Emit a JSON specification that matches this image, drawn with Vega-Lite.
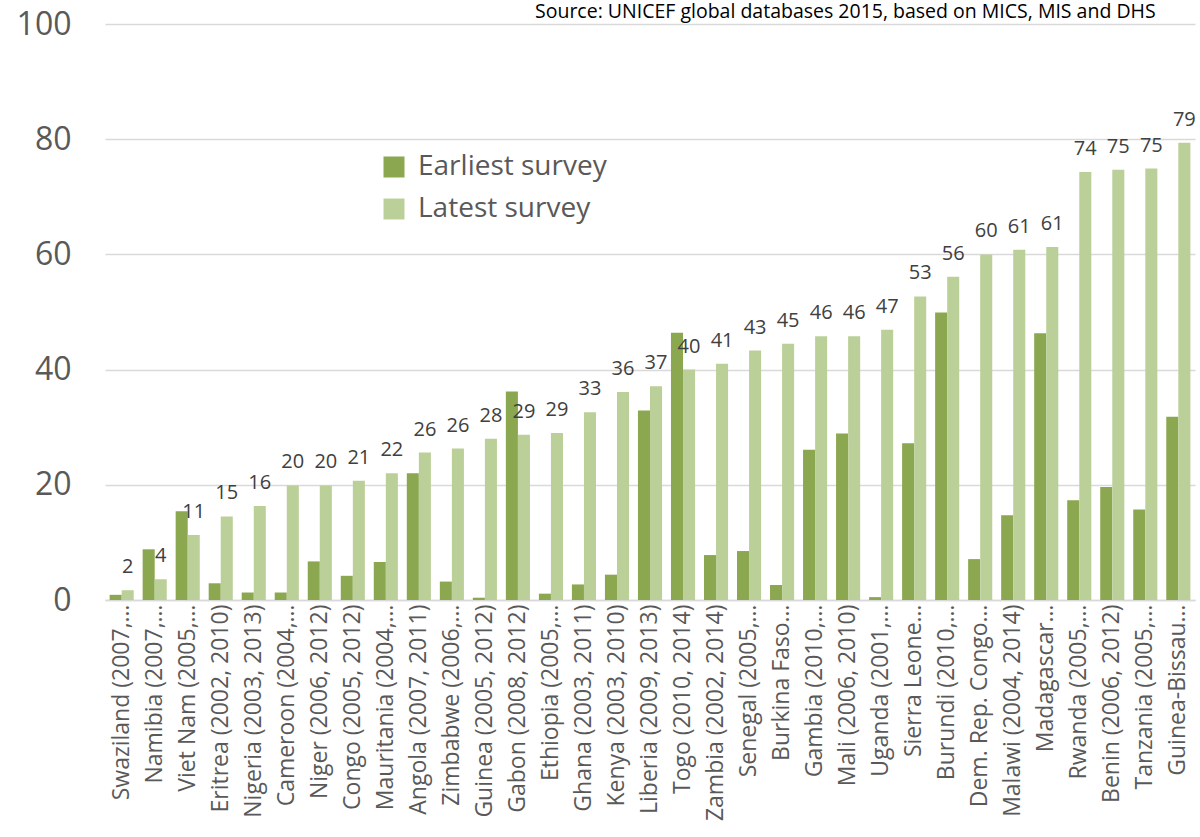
{
  "$schema": "https://vega.github.io/schema/vega-lite/v6.json",
  "width": 1090,
  "height": 576,
  "autosize": {"type": "none"},
  "padding": {"left": 105, "top": 24, "right": 5, "bottom": 237},
  "background": "white",
  "title": {
    "text": "Source: UNICEF global databases 2015, based on MICS, MIS and DHS",
    "anchor": "start",
    "frame": "group",
    "dx": 430,
    "offset": 0,
    "dy": 29,
    "baseline": "alphabetic",
    "font": "Open Sans",
    "fontSize": 19.5,
    "fontWeight": "normal",
    "color": "#000000"
  },
  "config": {
    "font": "Open Sans",
    "view": {"stroke": null}
  },
  "data": {
    "values": [
      {"country": "Swaziland (2007,…", "survey": "Earliest survey", "value": 0.9},
      {"country": "Swaziland (2007,…", "survey": "Latest survey", "value": 1.7},
      {"country": "Namibia (2007,…", "survey": "Earliest survey", "value": 8.8},
      {"country": "Namibia (2007,…", "survey": "Latest survey", "value": 3.6},
      {"country": "Viet Nam (2005,…", "survey": "Earliest survey", "value": 15.4},
      {"country": "Viet Nam (2005,…", "survey": "Latest survey", "value": 11.3},
      {"country": "Eritrea (2002, 2010)", "survey": "Earliest survey", "value": 2.9},
      {"country": "Eritrea (2002, 2010)", "survey": "Latest survey", "value": 14.5},
      {"country": "Nigeria (2003, 2013)", "survey": "Earliest survey", "value": 1.3},
      {"country": "Nigeria (2003, 2013)", "survey": "Latest survey", "value": 16.3},
      {"country": "Cameroon (2004,…", "survey": "Earliest survey", "value": 1.3},
      {"country": "Cameroon (2004,…", "survey": "Latest survey", "value": 19.9},
      {"country": "Niger (2006, 2012)", "survey": "Earliest survey", "value": 6.7},
      {"country": "Niger (2006, 2012)", "survey": "Latest survey", "value": 19.9},
      {"country": "Congo (2005, 2012)", "survey": "Earliest survey", "value": 4.2},
      {"country": "Congo (2005, 2012)", "survey": "Latest survey", "value": 20.7},
      {"country": "Mauritania (2004,…", "survey": "Earliest survey", "value": 6.6},
      {"country": "Mauritania (2004,…", "survey": "Latest survey", "value": 22.0},
      {"country": "Angola (2007, 2011)", "survey": "Earliest survey", "value": 22.0},
      {"country": "Angola (2007, 2011)", "survey": "Latest survey", "value": 25.6},
      {"country": "Zimbabwe (2006,…", "survey": "Earliest survey", "value": 3.2},
      {"country": "Zimbabwe (2006,…", "survey": "Latest survey", "value": 26.3},
      {"country": "Guinea (2005, 2012)", "survey": "Earliest survey", "value": 0.4},
      {"country": "Guinea (2005, 2012)", "survey": "Latest survey", "value": 28.0},
      {"country": "Gabon (2008, 2012)", "survey": "Earliest survey", "value": 36.2},
      {"country": "Gabon (2008, 2012)", "survey": "Latest survey", "value": 28.7},
      {"country": "Ethiopia (2005,…", "survey": "Earliest survey", "value": 1.1},
      {"country": "Ethiopia (2005,…", "survey": "Latest survey", "value": 29.0},
      {"country": "Ghana (2003, 2011)", "survey": "Earliest survey", "value": 2.7},
      {"country": "Ghana (2003, 2011)", "survey": "Latest survey", "value": 32.6},
      {"country": "Kenya (2003, 2010)", "survey": "Earliest survey", "value": 4.4},
      {"country": "Kenya (2003, 2010)", "survey": "Latest survey", "value": 36.1},
      {"country": "Liberia (2009, 2013)", "survey": "Earliest survey", "value": 32.9},
      {"country": "Liberia (2009, 2013)", "survey": "Latest survey", "value": 37.1},
      {"country": "Togo (2010, 2014)", "survey": "Earliest survey", "value": 46.4},
      {"country": "Togo (2010, 2014)", "survey": "Latest survey", "value": 40.0},
      {"country": "Zambia (2002, 2014)", "survey": "Earliest survey", "value": 7.8},
      {"country": "Zambia (2002, 2014)", "survey": "Latest survey", "value": 41.0},
      {"country": "Senegal (2005,…", "survey": "Earliest survey", "value": 8.5},
      {"country": "Senegal (2005,…", "survey": "Latest survey", "value": 43.3},
      {"country": "Burkina Faso…", "survey": "Earliest survey", "value": 2.6},
      {"country": "Burkina Faso…", "survey": "Latest survey", "value": 44.5},
      {"country": "Gambia (2010,…", "survey": "Earliest survey", "value": 26.1},
      {"country": "Gambia (2010,…", "survey": "Latest survey", "value": 45.8},
      {"country": "Mali (2006, 2010)", "survey": "Earliest survey", "value": 28.9},
      {"country": "Mali (2006, 2010)", "survey": "Latest survey", "value": 45.8},
      {"country": "Uganda (2001,…", "survey": "Earliest survey", "value": 0.5},
      {"country": "Uganda (2001,…", "survey": "Latest survey", "value": 46.9},
      {"country": "Sierra Leone…", "survey": "Earliest survey", "value": 27.2},
      {"country": "Sierra Leone…", "survey": "Latest survey", "value": 52.7},
      {"country": "Burundi (2010,…", "survey": "Earliest survey", "value": 49.9},
      {"country": "Burundi (2010,…", "survey": "Latest survey", "value": 56.1},
      {"country": "Dem. Rep. Congo…", "survey": "Earliest survey", "value": 7.1},
      {"country": "Dem. Rep. Congo…", "survey": "Latest survey", "value": 60.0},
      {"country": "Malawi (2004, 2014)", "survey": "Earliest survey", "value": 14.7},
      {"country": "Malawi (2004, 2014)", "survey": "Latest survey", "value": 60.8},
      {"country": "Madagascar…", "survey": "Earliest survey", "value": 46.3},
      {"country": "Madagascar…", "survey": "Latest survey", "value": 61.3},
      {"country": "Rwanda (2005,…", "survey": "Earliest survey", "value": 17.3},
      {"country": "Rwanda (2005,…", "survey": "Latest survey", "value": 74.3},
      {"country": "Benin (2006, 2012)", "survey": "Earliest survey", "value": 19.6},
      {"country": "Benin (2006, 2012)", "survey": "Latest survey", "value": 74.7},
      {"country": "Tanzania (2005,…", "survey": "Earliest survey", "value": 15.7},
      {"country": "Tanzania (2005,…", "survey": "Latest survey", "value": 74.9},
      {"country": "Guinea-Bissau…", "survey": "Earliest survey", "value": 31.8},
      {"country": "Guinea-Bissau…", "survey": "Latest survey", "value": 79.4}
    ]
  },
  "encoding": {
    "x": {
      "field": "country",
      "type": "nominal",
      "sort": null,
      "scale": {"paddingInner": 0.27, "paddingOuter": 0.14},
      "axis": {
        "title": null,
        "labelAngle": -90,
        "labelAlign": "right",
        "labelBaseline": "middle",
        "labelFont": "Open Sans",
        "labelFontSize": 23,
        "labelColor": "#595959",
        "labelPadding": 4,
        "labelLimit": 400,
        "ticks": false,
        "domainColor": "#d9d9d9",
        "domainWidth": 1.5,
        "grid": false
      }
    },
    "xOffset": {
      "field": "survey",
      "type": "nominal",
      "sort": ["Earliest survey", "Latest survey"]
    },
    "y": {
      "field": "value",
      "type": "quantitative",
      "scale": {"domain": [0, 100], "nice": false},
      "axis": {
        "title": null,
        "values": [0, 20, 40, 60, 80, 100],
        "labelFont": "Open Sans",
        "labelFontSize": 32,
        "labelColor": "#595959",
        "labelPadding": 34,
        "ticks": false,
        "domain": false,
        "gridColor": "#d9d9d9",
        "gridWidth": 1.5
      }
    }
  },
  "layer": [
    {
      "mark": {"type": "bar"},
      "encoding": {
        "color": {
          "field": "survey",
          "type": "nominal",
          "sort": ["Earliest survey", "Latest survey"],
          "scale": {"domain": ["Earliest survey", "Latest survey"], "range": ["#8ba74f", "#bbd098"]},
          "legend": {
            "title": null,
            "orient": "none",
            "legendX": 275,
            "legendY": 129,
            "symbolType": "square",
            "symbolSize": 441,
            "symbolStrokeWidth": 0,
            "symbolOpacity": 1,
            "labelFont": "Open Sans",
            "labelFontSize": 28,
            "labelColor": "#595959",
            "labelOffset": 10,
            "labelLimit": 0,
            "rowPadding": 14,
            "padding": 0
          }
        }
      }
    },
    {
      "transform": [{"filter": "datum.survey === 'Latest survey'"}],
      "mark": {
        "type": "text",
        "baseline": "alphabetic",
        "dy": -17,
        "font": "Open Sans",
        "fontSize": 20,
        "color": "#404040"
      },
      "encoding": {
        "text": {"field": "value", "type": "quantitative", "format": ".0f"}
      }
    }
  ]
}
